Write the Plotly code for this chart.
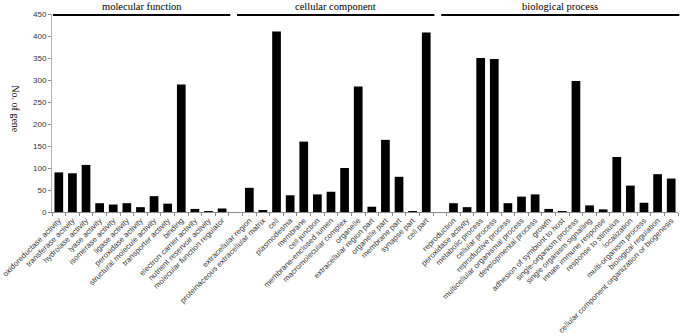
import plotly.graph_objects as go

# ---- data ----
mf_labels = ["oxidoreductase activity", "transferase activity", "hydrolase activity", "lyase activity",
             "isomerase activity", "ligase activity", "peroxidase activity", "structural molecule activity",
             "transporter activity", "binding", "electron carrier activity", "nutrient reservoir activity",
             "molecular function regulator"]
mf_values = [90, 88, 107, 20, 17, 20, 11, 36, 19, 290, 7, 2, 8]

cc_labels = ["extracellular region", "proteinaceous extracellular matrix", "cell", "plasmodesma", "membrane",
             "cell junction", "membrane-enclosed lumen", "macromolecular complex", "organelle",
             "extracellular region part", "organelle part", "membrane part", "synapse part", "cell part"]
cc_values = [55, 3, 410, 38, 160, 40, 46, 100, 285, 12, 164, 80, 2, 408]

bp_labels = ["reproduction", "peroxidase activity", "metabolic process", "cellular process",
             "reproductive process", "multicellular organismal process", "developmental process", "growth",
             "adhesion of symbiont to host", "single-organism process", "single organism signalling",
             "innate immune response", "response to stimulus", "localization", "multi-organism process",
             "biological regulation", "cellular component organization or biogenesis"]
bp_values = [20, 11, 350, 348, 20, 35, 40, 7, 1, 298, 15, 6, 125, 60, 21, 86, 76]

group_names = ["molecular function", "cellular component", "biological process"]
groups = [(mf_labels, mf_values), (cc_labels, cc_values), (bp_labels, bp_values)]
y_ticks = [0, 50, 100, 150, 200, 250, 300, 350, 400, 450]

# ---- layout of slots (one empty slot between groups) ----
xs, ys, labels, spans = [], [], [], []
pos = 0
for gi, (lab, val) in enumerate(groups):
    start = pos
    for l, v in zip(lab, val):
        xs.append(pos); ys.append(v); labels.append(l)
        pos += 1
    spans.append((start, pos - 1))
    if gi < len(groups) - 1:
        pos += 1
n_slots = pos
x_lo, x_hi = -0.5, n_slots - 0.5

fig = go.Figure(go.Bar(x=xs, y=ys, width=0.64, marker=dict(color="black", line=dict(width=0))))

def xp(v):
    return (v - x_lo) / (x_hi - x_lo)

SERIF = "Liberation Serif, Times New Roman, serif"
shapes, annots = [], []
for gi, ((s, e), name) in enumerate(zip(spans, group_names)):
    a = max(s - 0.9, -0.43)
    b = e + 0.6
    shapes.append(dict(type="line", xref="paper", yref="paper", x0=xp(a), x1=xp(b), y0=0.995, y1=0.995,
                       line=dict(color="black", width=2.2)))
    annots.append(dict(text=name, xref="paper", yref="paper", x=xp((a + b) / 2), y=1.04,
                       xanchor="center", yanchor="middle", showarrow=False,
                       font=dict(family=SERIF, size=10.5, color="black")))

annots.append(dict(text="No. of gene", xref="paper", yref="paper", x=-0.058, y=0.52, textangle=90,
                   xanchor="center", yanchor="middle", showarrow=False,
                   font=dict(family=SERIF, size=10, color="black")))

fig.update_layout(
    width=685, height=336,
    margin=dict(l=52, r=7, t=14, b=124),
    paper_bgcolor="white", plot_bgcolor="white",
    showlegend=False,
    shapes=shapes, annotations=annots,
    xaxis=dict(range=[x_lo, x_hi], tickmode="array", tickvals=xs, ticktext=labels, tickangle=-45,
               automargin=False, ticklabeloverflow="allow",
               ticks="", showgrid=False, zeroline=False, showline=True, linecolor="#8c8c8c", linewidth=1,
               tickfont=dict(family="Liberation Sans", size=7.8, color="#333333"),
               minor=dict(tick0=-0.5, dtick=1, ticks="outside", ticklen=3, tickcolor="#8c8c8c", showgrid=False)),
    yaxis=dict(range=[0, 450], tickmode="array", tickvals=y_ticks, ticks="outside", ticklen=3,
               automargin=False,
               tickcolor="#8c8c8c", showgrid=False, zeroline=False, showline=True, linecolor="#b0b0b0",
               linewidth=1, tickfont=dict(family="Liberation Sans", size=8, color="#333333")),
)

fig.write_html("out.html", config={"displayModeBar": False},
               post_script="document.body.style.margin='0';document.body.style.overflow='hidden';")
